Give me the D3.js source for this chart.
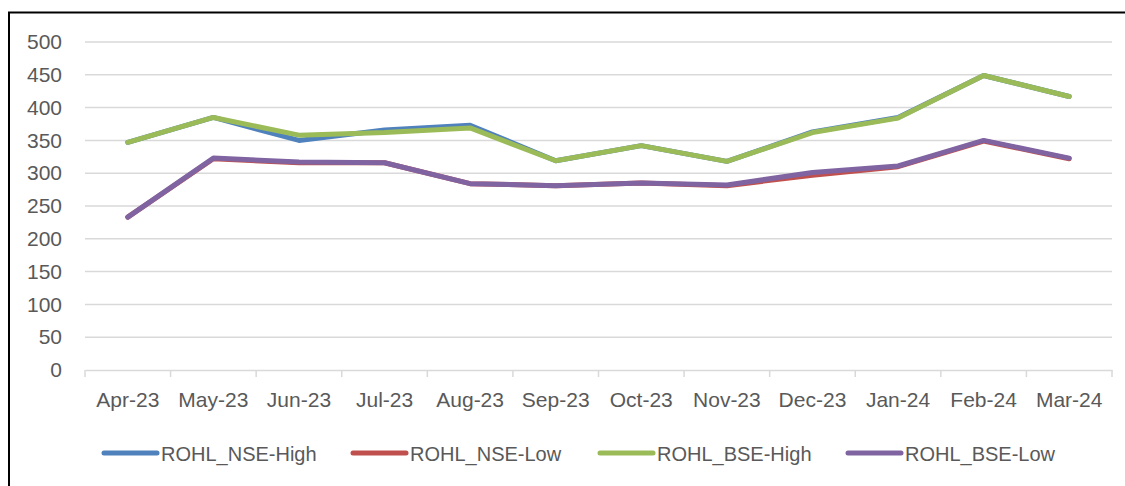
<!DOCTYPE html>
<html>
<head>
<meta charset="utf-8">
<script src="https://cdn.jsdelivr.net/npm/d3@7"></script>
<style>
  html, body { margin: 0; padding: 0; background: #ffffff; }
  svg { display: block; }
</style>
</head>
<body>
<svg id="chart" width="1125" height="486"></svg>
<script>
// Monthly high / low prices of ROHL on NSE and BSE
const months = ["Apr-23", "May-23", "Jun-23", "Jul-23", "Aug-23", "Sep-23",
                "Oct-23", "Nov-23", "Dec-23", "Jan-24", "Feb-24", "Mar-24"];
const nseHigh = [347, 385, 350, 366, 373, 319, 342, 318, 363, 385, 449, 417];
const nseLow  = [233, 322, 316, 316, 284, 281, 285, 281, 297, 310, 349, 322];
const bseHigh = [347, 385, 358, 362, 369, 319, 342, 318, 362, 384, 449, 417];
const bseLow  = [233, 323, 317, 316, 284, 281, 285, 282, 301, 311, 350, 323];
const yTicks  = [0, 50, 100, 150, 200, 250, 300, 350, 400, 450, 500];

const seriesNames  = ["ROHL_NSE-High", "ROHL_NSE-Low", "ROHL_BSE-High", "ROHL_BSE-Low"];
const seriesValues = [nseHigh, nseLow, bseHigh, bseLow];
const seriesColors = ["#4F81BD", "#C0504D", "#9BBB59", "#8064A2"];

const svg = d3.select("#chart");
const textColor = "#595959";
const font = "'Liberation Sans', Arial, sans-serif";

// Outer frame
svg.append("rect")
  .attr("x", 9).attr("y", 12.5)
  .attr("width", 1140).attr("height", 500)
  .attr("fill", "none").attr("stroke", "#000").attr("stroke-width", 2);

const plot = { left: 85, right: 1112, top: 42, bottom: 370 };

const x = d3.scaleBand().domain(months).range([plot.left, plot.right]);
const y = d3.scaleLinear().domain([0, 500]).range([plot.bottom, plot.top]);

// Horizontal gridlines
svg.append("g")
  .selectAll("line")
  .data(yTicks.filter(d => d > 0))
  .join("line")
  .attr("x1", plot.left).attr("x2", plot.right)
  .attr("y1", d => y(d)).attr("y2", d => y(d))
  .attr("stroke", "#d9d9d9").attr("stroke-width", 1.5);

// Y axis labels
const yAxis = svg.append("g")
  .attr("transform", `translate(${plot.left},0)`)
  .call(d3.axisLeft(y).tickValues(yTicks).tickSize(0).tickPadding(23));
yAxis.select(".domain").remove();
yAxis.selectAll("text")
  .attr("fill", textColor)
  .style("font-family", font).style("font-size", "21px");

// X axis with category separators
const xAxis = svg.append("g")
  .attr("transform", `translate(0,${plot.bottom})`)
  .call(d3.axisBottom(x).tickSize(0).tickPadding(22));
xAxis.select(".domain")
  .attr("stroke", "#d9d9d9").attr("stroke-width", 1.5);
xAxis.selectAll("text")
  .attr("fill", textColor)
  .style("font-family", font).style("font-size", "21px");

const sepPositions = months.map(m => x(m)).concat([x(months[months.length - 1]) + x.bandwidth()]);
svg.append("g")
  .selectAll("line")
  .data(sepPositions)
  .join("line")
  .attr("x1", d => d).attr("x2", d => d)
  .attr("y1", plot.bottom).attr("y2", plot.bottom + 7)
  .attr("stroke", "#d9d9d9").attr("stroke-width", 1.5);

// Series lines
const line = d3.line()
  .x((d, i) => x(months[i]) + x.bandwidth() / 2)
  .y(d => y(d));

svg.append("g")
  .selectAll("path")
  .data(seriesValues)
  .join("path")
  .attr("d", d => line(d))
  .attr("fill", "none")
  .attr("stroke", (d, i) => seriesColors[i])
  .attr("stroke-width", 5)
  .attr("stroke-linejoin", "round")
  .attr("stroke-linecap", "round");

// Legend
const legendX = [104, 353, 600, 848];
const legend = svg.append("g")
  .selectAll("g")
  .data(seriesNames)
  .join("g")
  .attr("transform", (d, i) => `translate(${legendX[i]},453)`);
legend.append("line")
  .attr("x1", 0).attr("x2", 53)
  .attr("y1", 0).attr("y2", 0)
  .attr("stroke", (d, i) => seriesColors[i])
  .attr("stroke-width", 5)
  .attr("stroke-linecap", "round");
legend.append("text")
  .attr("x", 57).attr("y", 7.5)
  .attr("fill", textColor)
  .style("font-family", font).style("font-size", "20px")
  .text(d => d);
</script>
</body>
</html>
